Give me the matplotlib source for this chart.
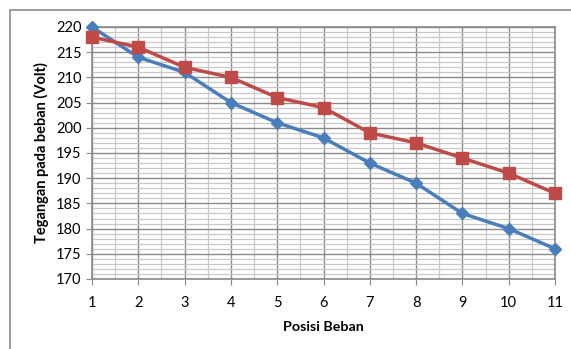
import matplotlib.pyplot as plt
from matplotlib.patches import Rectangle
from matplotlib.ticker import MultipleLocator

plt.rcParams['font.family'] = ['Lato', 'DejaVu Sans']

posisi = [1, 2, 3, 4, 5, 6, 7, 8, 9, 10, 11]
seri_biru = [220, 214, 211, 205, 201, 198, 193, 189, 183, 180, 176]
seri_merah = [218, 216, 212, 210, 206, 204, 199, 197, 194, 191, 187]

fig = plt.figure(figsize=(5.71, 3.49), dpi=100)
# outer chart border (Excel style)
fig.patches.append(Rectangle((10 / 571, -0.05), 1.0, 1 - 10 / 349 + 0.05,
                             transform=fig.transFigure, fill=False,
                             edgecolor='#8c8c8c', linewidth=1.2))

ax = fig.add_axes([92 / 571, 1 - 279 / 349, (555 - 92) / 571, (279 - 27) / 349])

ax.set_xlim(1, 11)
ax.set_ylim(170, 220)
ax.xaxis.set_major_locator(MultipleLocator(1))
ax.xaxis.set_minor_locator(MultipleLocator(0.5))
ax.yaxis.set_major_locator(MultipleLocator(5))
ax.yaxis.set_minor_locator(MultipleLocator(1))

ax.grid(which='minor', color='#c8c8c8', linewidth=0.9)
ax.grid(which='major', color='#8a8a8a', linewidth=1.0)
ax.set_axisbelow(True)

ax.plot(posisi, seri_biru, color='#4a7ebb', linewidth=2.5, marker='D',
        markersize=6.5, clip_on=False, zorder=3)
ax.plot(posisi, seri_merah, color='#be4b48', linewidth=2.5, marker='s',
        markersize=8, clip_on=False, zorder=3)

for s in ax.spines.values():
    s.set_color('#8a8a8a')
    s.set_linewidth(1.2)

ax.tick_params(which='major', direction='out', length=4, color='#8a8a8a',
               labelsize=10.5, labelcolor='black')
ax.tick_params(which='minor', length=0)
ax.tick_params(axis='x', pad=8)

ax.set_xlabel('Posisi Beban', fontsize=10.3, fontweight='bold', labelpad=8)
ax.set_ylabel('Tegangan pada beban (Volt)', fontsize=10.5, fontweight='bold', labelpad=5)

fig.savefig('out.png', dpi=100)
